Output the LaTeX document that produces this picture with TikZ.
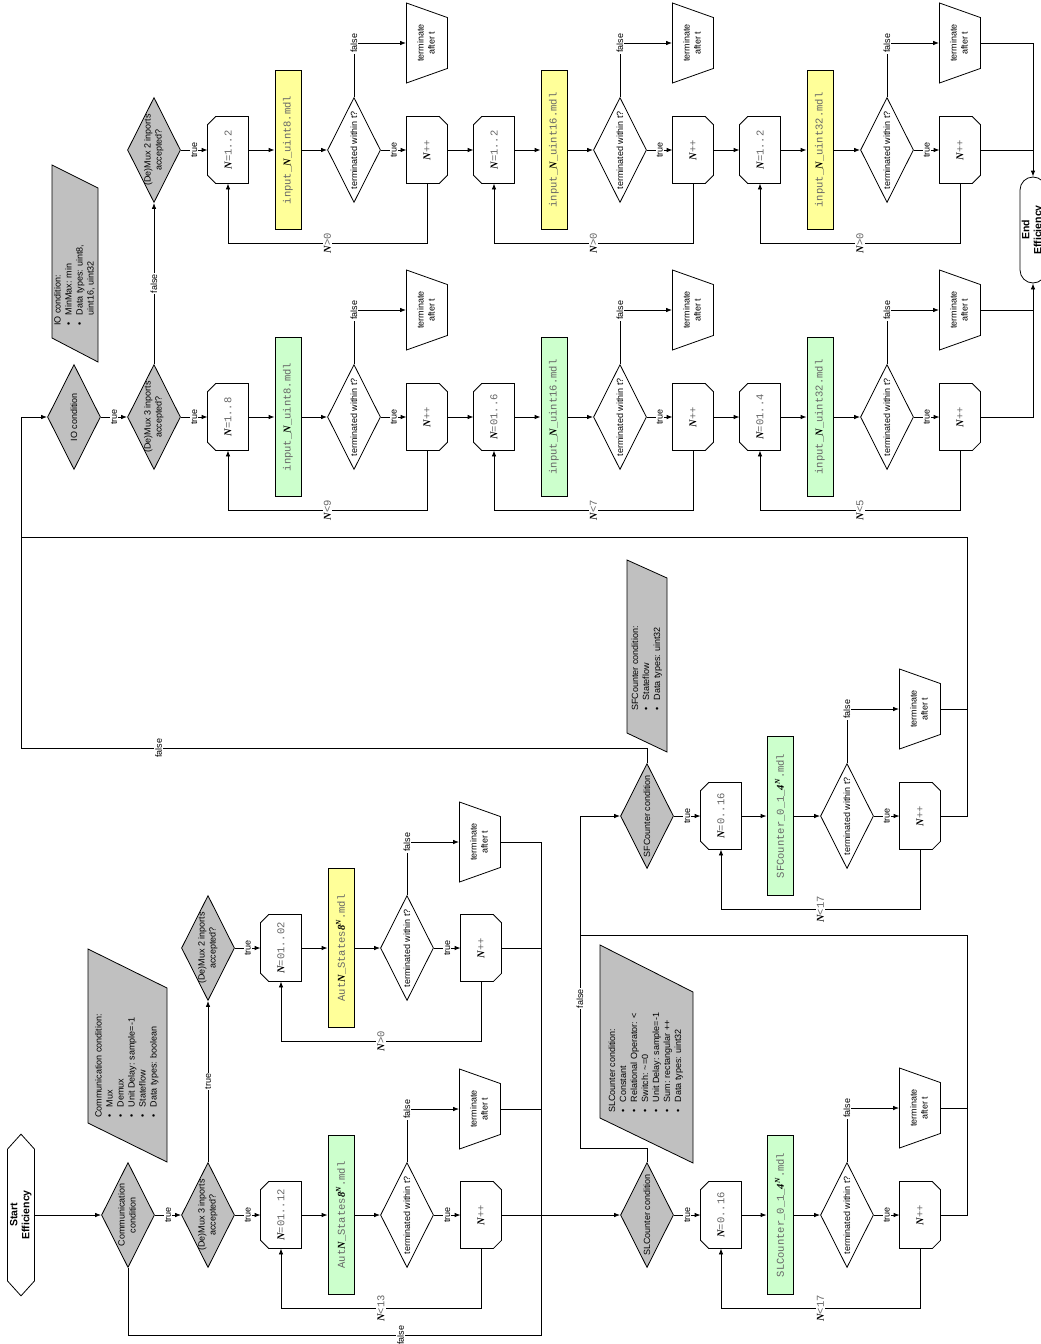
\documentclass[tikz,border=0pt]{standalone}
\usepackage{fontspec}
\setmainfont{Liberation Sans}
\setsansfont{Liberation Sans}
\newfontfamily\mono{Liberation Mono}
\newfontfamily\nserif{Liberation Serif}
\usepackage{graphicx}
\usetikzlibrary{shapes.geometric,shapes.misc,shapes.symbols,arrows.meta}

\definecolor{condgray}{HTML}{C0C0C0}
\definecolor{modelgreen}{HTML}{CCFFCC}
\definecolor{modelyellow}{HTML}{FFFF99}
\colorlet{monogray}{black!60}

% rotated text of zero size, so the shape keeps its own size
\newcommand\rot[1]{\makebox[0pt]{\raisebox{-.5\height}[0pt][0pt]{\rotatebox{90}{#1}}}}
\newcommand\twolines[2]{\begin{tabular}{@{}c@{}}#1\\#2\end{tabular}}
\newcommand\bi[1]{{\nserif\bfseries\itshape #1}}
\newcommand\Nv{\bi{N}}
\newcommand\mc[1]{{\mono\color{monogray}#1}}
\newcommand\looplbl[1]{{\fontsize{10.5}{12}\selectfont\Nv\mc{#1}}}

\begin{document}
\begin{tikzpicture}[x=1pt, y=-1pt, line width=0.8pt, >={Latex[length=6pt,width=4.5pt]},
  font=\fontsize{9}{11}\selectfont,
  chamf/.style={draw, line width=0.8pt, line cap=round},
  terminal/.style={draw, signal, signal to=north and south, signal pointer angle=84,
    minimum width=27, minimum height=134, inner sep=1pt, font=\fontsize{10.5}{12}\selectfont},
  cond/.style={draw, diamond, fill=condgray, minimum width=53, minimum height=105, inner sep=1pt},
  test/.style={draw, diamond, fill=white, minimum width=53, minimum height=105, inner sep=1pt},
  loopbegin/.style={rectangle, minimum width=40, minimum height=66, inner sep=1pt,
    font=\fontsize{10.5}{12}\selectfont, append after command={
    (\tikzlastnode.north east) edge[chamf] ([xshift=8pt]\tikzlastnode.north west)
    ([xshift=8pt]\tikzlastnode.north west) edge[chamf] ([yshift=-8pt]\tikzlastnode.north west)
    ([yshift=-8pt]\tikzlastnode.north west) edge[chamf] ([yshift=8pt]\tikzlastnode.south west)
    ([yshift=8pt]\tikzlastnode.south west) edge[chamf] ([xshift=8pt]\tikzlastnode.south west)
    ([xshift=8pt]\tikzlastnode.south west) edge[chamf] (\tikzlastnode.south east)
    (\tikzlastnode.south east) edge[chamf] (\tikzlastnode.north east)}},
  loopend/.style={rectangle, minimum width=40, minimum height=66, inner sep=1pt,
    font=\fontsize{10.5}{12}\selectfont, append after command={
    (\tikzlastnode.north west) edge[chamf] ([xshift=-8pt]\tikzlastnode.north east)
    ([xshift=-8pt]\tikzlastnode.north east) edge[chamf] ([yshift=-8pt]\tikzlastnode.north east)
    ([yshift=-8pt]\tikzlastnode.north east) edge[chamf] ([yshift=8pt]\tikzlastnode.south east)
    ([yshift=8pt]\tikzlastnode.south east) edge[chamf] ([xshift=-8pt]\tikzlastnode.south east)
    ([xshift=-8pt]\tikzlastnode.south east) edge[chamf] (\tikzlastnode.south west)
    (\tikzlastnode.south west) edge[chamf] (\tikzlastnode.north west)}},
  model/.style={draw, rectangle, minimum width=26, minimum height=159, inner sep=1pt,
    font=\fontsize{10.5}{12}\selectfont},
  greenmodel/.style={model, fill=modelgreen},
  yellowmodel/.style={model, fill=modelyellow},
  stopbox/.style={draw, trapezium, trapezium angle=74, shape border rotate=270,
    trapezium stretches=true, minimum width=80, minimum height=41, inner sep=2pt},
  notebox/.style={draw, fill=condgray},
  notetext/.style={rotate=90, anchor=west, inner sep=0pt, align=left},
  lbl/.style={rotate=90, fill=white, inner sep=1pt}]
\useasboundingbox (0,0) rectangle (1041,1344);

% notes
\filldraw[notebox] (88,949) -- (167,988) -- (167,1162) -- (88,1123) -- cycle;
\node[notetext] (commnote) at (127,1118) {\begin{tabular}{@{}l@{\hspace{7pt}}l@{}}
  \multicolumn{2}{@{}l@{}}{Communication condition:}\\
  \textbullet & Mux\\ \textbullet & Demux\\ \textbullet & Unit Delay: sample=-1\\
  \textbullet & Stateflow\\ \textbullet & Data types: boolean\end{tabular}};
\filldraw[notebox] (600,945) -- (693,992) -- (693,1163) -- (600,1118) -- cycle;
\node[notetext] (slnote) at (646,1113) {\begin{tabular}{@{}l@{\hspace{7pt}}l@{}}
  \multicolumn{2}{@{}l@{}}{SLCounter condition:}\\
  \textbullet & Constant\\ \textbullet & Relational Operator: <\\
  \textbullet & Switch: \textasciitilde=0\\ \textbullet & Unit Delay: sample=-1\\
  \textbullet & Sum: rectangular ++\\ \textbullet & Data types: uint32\end{tabular}};
\filldraw[notebox] (627,560) -- (667,578) -- (667,752) -- (627,733) -- cycle;
\node[notetext] (sfnote) at (647,711) {\begin{tabular}{@{}l@{\hspace{7pt}}l@{}}
  \multicolumn{2}{@{}l@{}}{SFCounter condition:}\\
  \textbullet & Stateflow\\ \textbullet & Data types: uint32\end{tabular}};
\filldraw[notebox] (52,165) -- (98,188) -- (98,362) -- (52,338) -- cycle;
\node[notetext] (ionote) at (75,326) {\begin{tabular}{@{}l@{\hspace{7pt}}l@{}}
  \multicolumn{2}{@{}l@{}}{IO condition:}\\
  \textbullet & MinMax: min\\ \textbullet & Data types: uint8,\\ & uint16, uint32\end{tabular}};

% communication
\node[terminal] (start) at (21,1215) {\rot{\twolines{\bfseries Start}{\bfseries Efficiency}}};
\node[cond] (comm) at (128,1215) {\rot{\twolines{Communication}{condition}}};
\node[cond] (mux3a) at (208,1215) {\rot{\twolines{(De)Mux 3 inports}{accepted?}}};
\node[loopbegin] (na1) at (281,1215) {\rot{\Nv\mc{=01..12}}};
\node[greenmodel] (ma1) at (341,1215) {\rot{\mc{Aut}\Nv\mc{\_States}\bi{8}\textsuperscript{\Nv}\mc{.mdl}}};
\node[test] (ta1) at (407,1215) {\rot{terminated within t?}};
\node[loopend] (pa1) at (481,1215) {\rot{\Nv\mc{++}}};
\node[stopbox] (xa1) at (480,1109) {\rot{\twolines{terminate}{after t}}};

\node[cond] (mux2a) at (208,948) {\rot{\twolines{(De)Mux 2 inports}{accepted?}}};
\node[loopbegin] (na2) at (281,948) {\rot{\Nv\mc{=01..02}}};
\node[yellowmodel] (ma2) at (341,948) {\rot{\mc{Aut}\Nv\mc{\_States}\bi{8}\textsuperscript{\Nv}\mc{.mdl}}};
\node[test] (ta2) at (407,948) {\rot{terminated within t?}};
\node[loopend] (pa2) at (481,948) {\rot{\Nv\mc{++}}};
\node[stopbox] (xa2) at (480,842) {\rot{\twolines{terminate}{after t}}};

\draw[->] (start) -- (comm);
\draw[->] (comm) -- node[lbl]{true} (mux3a);
\draw[->] (mux3a) -- node[lbl]{true} (na1);
\draw[->] (na1) -- (ma1);
\draw[->] (ma1) -- (ta1);
\draw[->] (ta1) -- node[lbl]{true} (pa1);
\draw[->] (ta1.north) |- node[lbl]{false} (xa1.west);
\draw[->] (pa1.south) -- ++(0,60) -| node[lbl,pos=0.25]{\looplbl{<13}} (na1.south);
\draw[->] (mux3a.north) -- node[lbl]{true} (mux2a.south);
\draw[->] (mux2a) -- node[lbl]{true} (na2);
\draw[->] (na2) -- (ma2);
\draw[->] (ma2) -- (ta2);
\draw[->] (ta2) -- node[lbl]{true} (pa2);
\draw[->] (ta2.north) |- node[lbl]{false} (xa2.west);
\draw[->] (pa2.south) -- ++(0,60) -| node[lbl,pos=0.25]{\looplbl{>0}} (na2.south);

\coordinate (busa) at (541,1215);
\coordinate (busa0) at (541,1335);
\draw (pa1.east) -- (busa);
\draw (xa1.east) -| (busa);
\draw (pa2.east) -| (busa);
\draw (xa2.east) -| (busa);
\draw (comm.south) |- node[lbl,pos=0.83]{false} (busa0) -- (busa);

% SLCounter
\node[cond] (slc) at (647,1215) {\rot{SLCounter condition}};
\node[loopbegin] (ns1) at (721,1215) {\rot{\Nv\mc{=0..16}}};
\node[greenmodel] (ms1) at (780,1215) {\rot{\mc{SLCounter\_0\_1\_}\bi{4}\textsuperscript{\Nv}\mc{.mdl}}};
\node[test] (ts1) at (847,1215) {\rot{terminated within t?}};
\node[loopend] (ps1) at (920,1215) {\rot{\Nv\mc{++}}};
\node[stopbox] (xs1) at (920,1108) {\rot{\twolines{terminate}{after t}}};

\draw[->] (busa) -- (slc);
\draw[->] (slc) -- node[lbl]{true} (ns1);
\draw[->] (ns1) -- (ms1);
\draw[->] (ms1) -- (ts1);
\draw[->] (ts1) -- node[lbl]{true} (ps1);
\draw[->] (ts1.north) |- node[lbl]{false} (xs1.west);
\draw[->] (ps1.south) -- ++(0,60) -| node[lbl,pos=0.25]{\looplbl{<17}} (ns1.south);

\coordinate (buss) at (967,935);
\coordinate (joins) at (580,935);
\draw (ps1.east) -| (buss);
\draw (xs1.east) -| (buss);
\draw (buss) -- (joins);
\draw (slc.north) -- ++(0,-14) -| node[lbl,pos=0.85]{false} (joins);

% SFCounter
\node[cond] (sfc) at (647,816) {\rot{SFCounter condition}};
\node[loopbegin] (ns2) at (721,816) {\rot{\Nv\mc{=0..16}}};
\node[greenmodel] (ms2) at (780,816) {\rot{\mc{SFCounter\_0\_1\_}\bi{4}\textsuperscript{\Nv}\mc{.mdl}}};
\node[test] (ts2) at (847,816) {\rot{terminated within t?}};
\node[loopend] (ps2) at (920,816) {\rot{\Nv\mc{++}}};
\node[stopbox] (xs2) at (920,709) {\rot{\twolines{terminate}{after t}}};

\draw[->] (joins) |- (sfc.west);
\draw[->] (sfc) -- node[lbl]{true} (ns2);
\draw[->] (ns2) -- (ms2);
\draw[->] (ms2) -- (ts2);
\draw[->] (ts2) -- node[lbl]{true} (ps2);
\draw[->] (ts2.north) |- node[lbl]{false} (xs2.west);
\draw[->] (ps2.south) -- ++(0,60) -| node[lbl,pos=0.25]{\looplbl{<17}} (ns2.south);

\coordinate (busf) at (967,537);
\coordinate (joinf) at (21,537);
\coordinate (sffalse) at (21,748);
\draw (ps2.east) -| (busf);
\draw (xs2.east) -| (busf);
\draw (busf) -- (joinf);
\draw (sfc.north) |- node[lbl,pos=0.89]{false} (sffalse);

% IO
\node[cond] (io) at (74,417) {\rot{IO condition}};
\node[cond] (mux3b) at (154,417) {\rot{\twolines{(De)Mux 3 inports}{accepted?}}};
\node[loopbegin] (nb1) at (228,417) {\rot{\Nv\mc{=1..8}}};
\node[greenmodel] (mb1) at (288,417) {\rot{\mc{input\_}\Nv\mc{\_uint8.mdl}}};
\node[test] (tb1) at (354,417) {\rot{terminated within t?}};
\node[loopend] (pb1) at (427,417) {\rot{\Nv\mc{++}}};
\node[stopbox] (xb1) at (427,310) {\rot{\twolines{terminate}{after t}}};
\node[loopbegin] (nb2) at (494,417) {\rot{\Nv\mc{=01..6}}};
\node[greenmodel] (mb2) at (554,417) {\rot{\mc{input\_}\Nv\mc{\_uint16.mdl}}};
\node[test] (tb2) at (620,417) {\rot{terminated within t?}};
\node[loopend] (pb2) at (693,417) {\rot{\Nv\mc{++}}};
\node[stopbox] (xb2) at (693,310) {\rot{\twolines{terminate}{after t}}};
\node[loopbegin] (nb3) at (760,417) {\rot{\Nv\mc{=01..4}}};
\node[greenmodel] (mb3) at (820,417) {\rot{\mc{input\_}\Nv\mc{\_uint32.mdl}}};
\node[test] (tb3) at (887,417) {\rot{terminated within t?}};
\node[loopend] (pb3) at (960,417) {\rot{\Nv\mc{++}}};
\node[stopbox] (xb3) at (960,310) {\rot{\twolines{terminate}{after t}}};

\node[cond] (mux2b) at (154,150) {\rot{\twolines{(De)Mux 2 inports}{accepted?}}};
\node[loopbegin] (nc1) at (228,150) {\rot{\Nv\mc{=1..2}}};
\node[yellowmodel] (mc1) at (288,150) {\rot{\mc{input\_}\Nv\mc{\_uint8.mdl}}};
\node[test] (tc1) at (354,150) {\rot{terminated within t?}};
\node[loopend] (pc1) at (427,150) {\rot{\Nv\mc{++}}};
\node[stopbox] (xc1) at (427,43) {\rot{\twolines{terminate}{after t}}};
\node[loopbegin] (nc2) at (494,150) {\rot{\Nv\mc{=1..2}}};
\node[yellowmodel] (mc2) at (554,150) {\rot{\mc{input\_}\Nv\mc{\_uint16.mdl}}};
\node[test] (tc2) at (620,150) {\rot{terminated within t?}};
\node[loopend] (pc2) at (693,150) {\rot{\Nv\mc{++}}};
\node[stopbox] (xc2) at (693,43) {\rot{\twolines{terminate}{after t}}};
\node[loopbegin] (nc3) at (760,150) {\rot{\Nv\mc{=1..2}}};
\node[yellowmodel] (mc3) at (820,150) {\rot{\mc{input\_}\Nv\mc{\_uint32.mdl}}};
\node[test] (tc3) at (887,150) {\rot{terminated within t?}};
\node[loopend] (pc3) at (960,150) {\rot{\Nv\mc{++}}};
\node[stopbox] (xc3) at (960,43) {\rot{\twolines{terminate}{after t}}};

\node[draw, rounded corners=13pt, minimum width=26, minimum height=106, inner sep=1pt,
  font=\fontsize{10.5}{12}\selectfont] (endn) at (1033,230)
  {\rot{\twolines{\bfseries End}{\bfseries Efficiency}}};

\draw[->] (sffalse) |- (io.west);
\draw[->] (io) -- node[lbl]{true} (mux3b);
\draw[->] (mux3b) -- node[lbl]{true} (nb1);
\draw[->] (mux3b.north) -- node[lbl]{false} (mux2b.south);
\draw[->] (mux2b) -- node[lbl]{true} (nc1);

\draw[->] (nb1) -- (mb1);
\draw[->] (mb1) -- (tb1);
\draw[->] (tb1) -- node[lbl]{true} (pb1);
\draw[->] (tb1.north) |- node[lbl]{false} (xb1.west);
\draw[->] (pb1.south) -- ++(0,60) -| node[lbl,pos=0.25]{\looplbl{<9}} (nb1.south);
\draw[->] (pb1) -- (nb2);
\draw[->] (nb2) -- (mb2);
\draw[->] (mb2) -- (tb2);
\draw[->] (tb2) -- node[lbl]{true} (pb2);
\draw[->] (tb2.north) |- node[lbl]{false} (xb2.west);
\draw[->] (pb2.south) -- ++(0,60) -| node[lbl,pos=0.25]{\looplbl{<7}} (nb2.south);
\draw[->] (pb2) -- (nb3);
\draw[->] (nb3) -- (mb3);
\draw[->] (mb3) -- (tb3);
\draw[->] (tb3) -- node[lbl]{true} (pb3);
\draw[->] (tb3.north) |- node[lbl]{false} (xb3.west);
\draw[->] (pb3.south) -- ++(0,60) -| node[lbl,pos=0.25]{\looplbl{<5}} (nb3.south);

\draw[->] (nc1) -- (mc1);
\draw[->] (mc1) -- (tc1);
\draw[->] (tc1) -- node[lbl]{true} (pc1);
\draw[->] (tc1.north) |- node[lbl]{false} (xc1.west);
\draw[->] (pc1.south) -- ++(0,60) -| node[lbl,pos=0.25]{\looplbl{>0}} (nc1.south);
\draw[->] (pc1) -- (nc2);
\draw[->] (nc2) -- (mc2);
\draw[->] (mc2) -- (tc2);
\draw[->] (tc2) -- node[lbl]{true} (pc2);
\draw[->] (tc2.north) |- node[lbl]{false} (xc2.west);
\draw[->] (pc2.south) -- ++(0,60) -| node[lbl,pos=0.25]{\looplbl{>0}} (nc2.south);
\draw[->] (pc2) -- (nc3);
\draw[->] (nc3) -- (mc3);
\draw[->] (mc3) -- (tc3);
\draw[->] (tc3) -- node[lbl]{true} (pc3);
\draw[->] (tc3.north) |- node[lbl]{false} (xc3.west);
\draw[->] (pc3.south) -- ++(0,60) -| node[lbl,pos=0.25]{\looplbl{>0}} (nc3.south);

\draw[->] (xc3.east) -| (endn.north);
\draw (pc3.east) -- (pc3.east -| endn.north);
\draw[->] (pb3.east) -| (endn.south);
\draw (xb3.east) -- (xb3.east -| endn.south);
\end{tikzpicture}
\end{document}
